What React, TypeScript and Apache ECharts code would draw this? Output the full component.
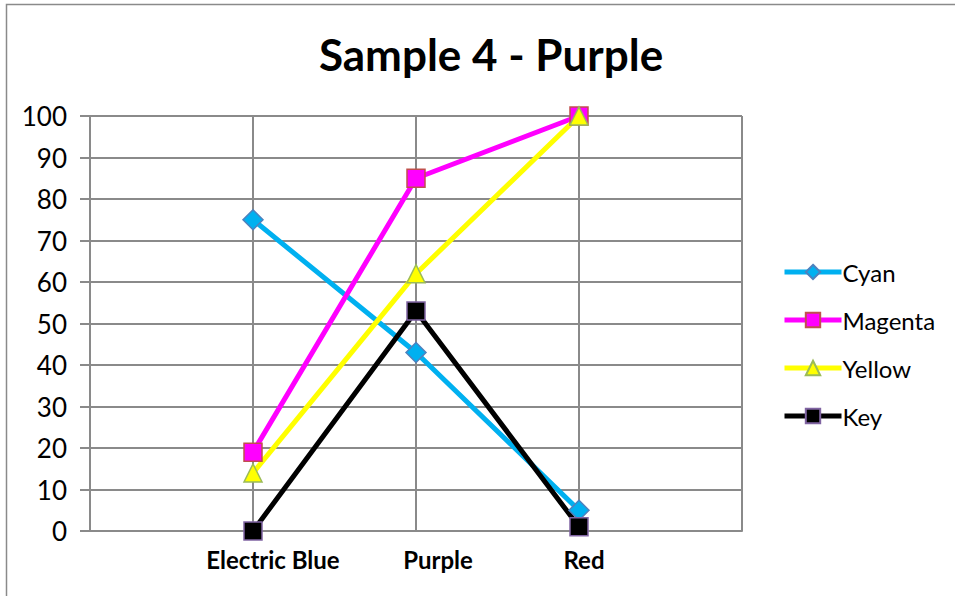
import React, { useEffect, useRef } from "react";
import * as echarts from "echarts";

const categories = ["", "Electric Blue", "Purple", "Red", ""];
const cyan = [null, 75, 43, 5, null];
const magenta = [null, 19, 85, 100, null];
const yellow = [null, 14, 62, 100, null];
const keyVals = [null, 0, 53, 1, null];
const yTicks = { min: 0, max: 100, interval: 10 };

const FONT = "Lato, 'Open Sans', sans-serif";

export default function App() {
  const ref = useRef<HTMLDivElement>(null);
  useEffect(() => {
    const chart = echarts.init(ref.current!, null, { renderer: "svg" });
    const mk = (name: string, data: any[], color: string, symbol: string, size: number, border: string) => ({
      name,
      type: "line",
      data,
      symbol,
      symbolSize: size,
      showAllSymbol: true,
      connectNulls: false,
      lineStyle: { color, width: 5 },
      itemStyle: { color, borderColor: border, borderWidth: 1.5 },
      emphasis: { disabled: true },
    });
    const richKey: Record<string, string> = { "Electric Blue": "e", Purple: "p", Red: "r" };
    const lbl = { fontFamily: FONT, fontWeight: "bold", fontSize: 24, color: "#000" };
    chart.setOption({
      animation: false,
      backgroundColor: "#fff",
      title: {
        text: "Sample 4 - Purple",
        left: 486,
        textAlign: "center",
        top: 27,
        textStyle: { fontFamily: FONT, fontWeight: "bold", fontSize: 44, color: "#000" },
      },
      graphic: [
        {
          type: "rect",
          shape: { x: 6.5, y: 4.5, width: 1000, height: 1000 },
          style: { fill: "none", stroke: "#8a8a8a", lineWidth: 1.5 },
          silent: true,
        },
      ],
      grid: { left: 90, right: 213, top: 116, bottom: 65, containLabel: false },
      legend: {
        orient: "vertical",
        left: 777,
        top: 255,
        itemWidth: 57,
        itemHeight: 18,
        itemGap: 24,
        lineStyle: { width: 5 },
        textStyle: { fontFamily: FONT, fontSize: 24, color: "#000", padding: [0, 0, 0, -4] },
        data: ["Cyan", "Magenta", "Yellow", "Key"],
      },
      xAxis: {
        type: "category",
        data: categories,
        boundaryGap: false,
        axisLine: { lineStyle: { color: "#8a8a8a", width: 2 } },
        axisTick: { show: false },
        splitLine: { show: true, lineStyle: { color: "#8a8a8a", width: 2 } },
        axisLabel: {
          interval: 0,
          margin: 16,
          formatter: (v: string) => (v ? `{${richKey[v]}|${v}}` : ""),
          rich: {
            e: { ...lbl, padding: [0, 0, 0, 40] },
            p: { ...lbl, padding: [0, 0, 0, 44] },
            r: { ...lbl, padding: [0, 0, 0, 10] },
          },
        },
      },
      yAxis: {
        type: "value",
        min: yTicks.min,
        max: yTicks.max,
        interval: yTicks.interval,
        axisLine: { show: true, lineStyle: { color: "#8a8a8a", width: 2 } },
        axisTick: { show: true, length: 10, lineStyle: { color: "#8a8a8a", width: 2 } },
        splitLine: { show: true, lineStyle: { color: "#8a8a8a", width: 2 } },
        axisLabel: { fontFamily: FONT, fontSize: 26, color: "#000", margin: 23 },
      },
      series: [
        mk("Cyan", cyan, "#00b0f0", "diamond", 20, "#4f81bd"),
        mk("Magenta", magenta, "#ff00ff", "rect", 18, "#c0504d"),
        mk("Yellow", yellow, "#ffff00", "triangle", 18, "#9bbb59"),
        mk("Key", keyVals, "#000000", "rect", 18, "#8064a2"),
      ],
    });
    return () => chart.dispose();
  }, []);
  return <div ref={ref} style={{ width: 955, height: 596, position: "absolute", left: 0, top: 0 }} />;
}
